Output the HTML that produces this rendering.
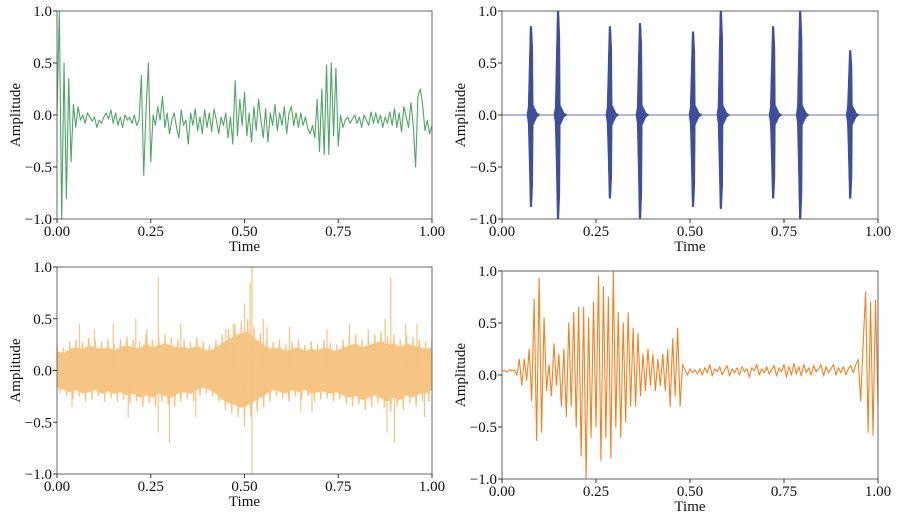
<!DOCTYPE html>
<html><head><meta charset="utf-8">
<style>
html,body{margin:0;padding:0;background:#fff;}
svg{display:block;font-family:"Liberation Serif",serif;}
</style></head>
<body>
<svg id="chart" width="897" height="522" viewBox="0 0 897 522" xmlns="http://www.w3.org/2000/svg"></svg>
<script>
// ---------- data ----------
const xTicks = [0, 0.25, 0.5, 0.75, 1.0];
const xTickLabels = ["0.00", "0.25", "0.50", "0.75", "1.00"];
const yTicks = [-1, -0.5, 0, 0.5, 1];
const yTickLabels = ["\u22121.0", "\u22120.5", "0.0", "0.5", "1.0"];

const greenValues = [
 0.0,1.0,-1.0,0.5,-0.8,0.35,-0.45,0.1,
 -0.12,0.08,-0.05,0.0,-0.08,0.02,-0.02,-0.06,
 -0.02,-0.12,-0.05,-0.08,-0.02,0.02,-0.04,0.05,
 -0.08,0.02,-0.1,-0.02,-0.12,0.0,-0.05,-0.02,
 -0.08,0.0,-0.1,-0.05,0.38,-0.58,0.05,0.5,
 -0.45,0.0,-0.1,0.08,-0.05,0.18,-0.12,0.02,
 -0.18,-0.05,0.02,-0.12,-0.22,0.05,-0.1,-0.05,
 -0.28,0.02,-0.1,0.06,-0.15,-0.02,-0.18,0.05,
 -0.12,0.02,-0.16,0.06,-0.05,-0.18,-0.02,-0.1,
 0.02,-0.22,-0.02,-0.28,0.33,-0.2,0.15,-0.1,
 0.22,-0.2,0.02,-0.26,0.08,-0.15,0.15,-0.05,
 -0.22,0.06,-0.26,0.02,-0.1,0.1,-0.15,0.02,
 -0.1,0.08,-0.18,0.02,0.08,-0.1,0.02,-0.12,
 0.02,-0.1,-0.02,-0.13,-0.18,-0.1,-0.22,0.15,
 -0.35,0.25,-0.38,0.48,-0.38,0.5,-0.2,0.45,
 -0.3,0.0,-0.12,-0.05,-0.02,-0.08,-0.04,0.0,
 -0.08,-0.02,-0.12,0.0,-0.05,-0.1,0.03,-0.08,
 0.02,-0.08,0.0,-0.12,-0.02,-0.08,0.03,-0.1,
 0.06,-0.12,0.02,-0.16,0.08,-0.02,-0.12,0.12,
 -0.1,-0.5,0.18,0.25,0.1,-0.15,-0.05,-0.18,-0.1
];

const burstTimes = [0.077,0.149,0.287,0.367,0.508,0.582,0.721,0.793,0.926];
const burstMax   = [0.85,1.0,0.85,0.88,0.8,1.0,0.85,1.0,0.62];
const burstMin   = [-0.88,-1.0,-0.8,-1.0,-0.88,-0.9,-0.8,-1.0,-0.8];

const noiseUpper = [0.25,0.22,0.28,0.3,0.27,0.32,0.3,0.28,0.3,0.26,0.3,0.33,0.3,0.28,0.35,0.3,0.33,0.35,0.32,0.3,0.3,0.28,0.32,0.28,0.25,0.3,0.35,0.4,0.45,0.48,0.5,0.42,0.36,0.3,0.28,0.3,0.25,0.28,0.3,0.25,0.28,0.26,0.3,0.27,0.25,0.3,0.32,0.35,0.3,0.33,0.35,0.38,0.33,0.35,0.3,0.35,0.32,0.3,0.28,0.3];
const noiseLower = [-0.22,-0.25,-0.28,-0.25,-0.3,-0.28,-0.25,-0.3,-0.27,-0.3,-0.28,-0.32,-0.3,-0.35,-0.32,-0.35,-0.3,-0.33,-0.35,-0.3,-0.28,-0.3,-0.25,-0.22,-0.25,-0.3,-0.38,-0.42,-0.45,-0.48,-0.45,-0.4,-0.35,-0.3,-0.25,-0.27,-0.3,-0.25,-0.28,-0.25,-0.3,-0.28,-0.27,-0.3,-0.28,-0.32,-0.35,-0.33,-0.38,-0.35,-0.32,-0.36,-0.4,-0.35,-0.38,-0.32,-0.35,-0.3,-0.3,-0.25];
const spikeTimes  = [0.06,0.15,0.21,0.27,0.27,0.3,0.24,0.47,0.5,0.515,0.52,0.52,0.5,0.55,0.78,0.875,0.89,0.9,0.88,0.96,0.1,0.19,0.33,0.37,0.62,0.68,0.72,0.83,0.93,0.98,0.04,0.45,0.56,0.65];
const spikeValues = [0.45,0.45,0.5,0.9,-0.6,-0.7,0.4,0.45,0.65,0.85,1.0,-1.0,-0.55,0.5,0.45,0.5,0.9,-0.7,-0.6,0.45,0.4,-0.45,0.45,-0.45,0.42,-0.4,0.4,0.4,0.45,-0.45,-0.35,0.4,0.42,-0.4];

const orangeValues = [
 0.04,0.04,0.03,0.05,0.04,0.05,0.0,0.15,
 -0.1,0.15,-0.05,0.25,-0.25,0.73,-0.63,0.93,
 -0.55,0.55,-0.15,0.1,-0.2,0.3,-0.1,0.2,
 -0.3,0.25,-0.4,0.5,-0.3,0.6,-0.5,0.65,
 -0.78,0.65,-1.0,0.55,-0.6,0.7,-0.5,0.95,
 -0.82,0.85,-0.6,0.75,-0.8,1.0,-0.5,0.6,
 -0.6,0.5,-0.45,0.6,-0.3,0.45,-0.3,0.4,
 -0.2,0.2,-0.15,0.25,-0.1,0.2,-0.15,0.15,
 -0.1,0.2,-0.15,0.25,-0.3,0.35,-0.2,0.45,
 -0.3,0.1,0.05,0.0,0.06,0.02,0.05,0.01,
 0.06,0.0,0.07,0.02,0.1,-0.01,0.06,0.03,
 0.08,0.0,0.05,0.09,-0.01,0.06,0.02,0.07,
 0.0,0.08,0.03,0.06,-0.02,0.07,0.04,0.1,
 0.0,0.06,0.02,0.08,0.01,0.05,0.09,-0.01,
 0.07,0.03,0.1,-0.02,0.08,0.0,0.11,0.01,
 0.08,-0.01,0.1,0.02,0.07,0.0,0.09,0.03,
 0.06,0.1,-0.01,0.08,0.02,0.06,0.1,0.0,
 0.07,0.02,0.08,0.0,0.06,0.09,0.02,0.1,
 0.15,-0.25,0.3,0.8,-0.55,0.7,-0.58,0.72,-0.3
];

// ---------- drawing ----------
const NS = "http://www.w3.org/2000/svg";
const svg = document.getElementById("chart");
function mk(tag, attrs, parent){
  const e = document.createElementNS(NS, tag);
  for (const k in attrs) e.setAttribute(k, attrs[k]);
  (parent||svg).appendChild(e);
  return e;
}

function panel(name, x0, x1, y0, y1){
  const g = mk("g", {});
  
  
  const sx = t => x0 + (x1 - x0) * t;
  const sy = v => y1 - (y1 - y0) * (v + 1) / 2;
  const clipId = name + "-clip";
  const cp = mk("clipPath", {id: clipId}, g);
  mk("rect", {x: x0, y: y0, width: x1 - x0, height: y1 - y0}, cp);
  const plot = mk("g", {"clip-path": "url(#" + clipId + ")"}, g);
  
  
  const frame = mk("rect", {x: x0, y: y0, width: x1 - x0, height: y1 - y0, fill: "none", stroke: "#555", "stroke-width": 0.9}, g);
  
  
  xTicks.forEach((t, i) => {
    mk("line", {x1: sx(t), x2: sx(t), y1: y1, y2: y1 + 4, stroke: "#333"}, g);
    const tx = mk("text", {x: sx(t), y: y1 + 17, "text-anchor": "middle", "font-size": 15, fill: "#111"}, g);
    tx.textContent = xTickLabels[i];
    
    
  });
  yTicks.forEach((v, i) => {
    mk("line", {x1: x0 - 4, x2: x0, y1: sy(v), y2: sy(v), stroke: "#333"}, g);
    const tx = mk("text", {x: x0 - 5, y: sy(v) + 5, "text-anchor": "end", "font-size": 15, fill: "#111"}, g);
    tx.textContent = yTickLabels[i];
    
    
  });
  const xl = mk("text", {x: (x0 + x1) / 2, y: y1 + 32, "text-anchor": "middle", "font-size": 15, fill: "#111"}, g);
  xl.textContent = "Time";
  
  
  const cy = (y0 + y1) / 2;
  const yl = mk("text", {x: x0 - 37, y: cy, "text-anchor": "middle", "font-size": 15, fill: "#111", transform: "rotate(-90 " + (x0 - 37) + " " + cy + ")"}, g);
  yl.textContent = "Amplitude";
  
  
  return {plot, sx, sy};
}

function linePath(vals, sx, sy){
  const n = vals.length - 1;
  return vals.map((v, i) => (i ? "L" : "M") + sx(i / n).toFixed(2) + " " + sy(v).toFixed(2)).join("");
}

// Top-left: green
{
  const p = panel("panel-green", 57, 432, 11, 219);
  const path = mk("path", {d: linePath(greenValues, p.sx, p.sy), fill: "none", stroke: "#4fa564", "stroke-width": 1.1, "stroke-linejoin": "round"}, p.plot);
  
  
}

// Top-right: blue bursts
{
  const p = panel("panel-blue", 502, 878, 11, 219);
  const base = mk("line", {x1: 502, x2: 878, y1: p.sy(0), y2: p.sy(0), stroke: "#6170b8", "stroke-width": 1}, p.plot);
  
  
  burstTimes.forEach((t, i) => {
    const cx = p.sx(t);
    const top = p.sy(burstMax[i]), bot = p.sy(burstMin[i]);
    const zy = p.sy(0);
    const d = "M" + (cx - 0.8) + " " + top + " L" + (cx + 0.8) + " " + top +
      " L" + (cx + 1.8) + " " + (zy - (zy - top) * 0.75) + " L" + (cx + 2.2) + " " + (zy - 10) +
      " L" + (cx + 6) + " " + (zy - 2) + " L" + (cx + 9) + " " + zy + " L" + (cx + 6) + " " + (zy + 2) +
      " L" + (cx + 2.2) + " " + (zy + 10) + " L" + (cx + 1.8) + " " + (zy + (bot - zy) * 0.75) +
      " L" + (cx + 0.8) + " " + bot + " L" + (cx - 0.8) + " " + bot +
      " L" + (cx - 1.8) + " " + (zy + (bot - zy) * 0.5) + " L" + (cx - 2.8) + " " + (zy + 8) +
      " L" + (cx - 4) + " " + zy + " L" + (cx - 2.8) + " " + (zy - 8) +
      " L" + (cx - 1.8) + " " + (zy - (zy - top) * 0.55) + " Z";
    const b = mk("path", {d: d, fill: "#3d4e9a", stroke: "#3d4e9a", "stroke-width": 0.6}, p.plot);
    
    
  });
}

// Bottom-left: peach noise
{
  const p = panel("panel-peach", 57, 432, 267, 474);
  const n = noiseUpper.length;
  let d = "";
  for (let i = 0; i < n; i++) d += (i ? "L" : "M") + p.sx(i / (n - 1)).toFixed(2) + " " + p.sy(noiseUpper[i] * 0.75).toFixed(2);
  for (let i = n - 1; i >= 0; i--) d += "L" + p.sx(i / (n - 1)).toFixed(2) + " " + p.sy(noiseLower[i] * 0.75).toFixed(2);
  const fill = mk("path", {d: d + "Z", fill: "#f6c483", stroke: "none"}, p.plot);
  
  
  let z = "";
  for (let i = 0; i < n; i++) {
    const xa = p.sx(i / (n - 1)), xb = p.sx((i + 0.5) / (n - 1));
    z += (i ? "L" : "M") + xa.toFixed(2) + " " + p.sy(noiseUpper[i]).toFixed(2) + "L" + xb.toFixed(2) + " " + p.sy(noiseLower[i]).toFixed(2);
  }
  const zz = mk("path", {d: z, fill: "none", stroke: "#f6c483", "stroke-width": 1.2}, p.plot);
  
  
  spikeTimes.forEach((t, i) => {
    const s = mk("line", {x1: p.sx(t), x2: p.sx(t), y1: p.sy(0), y2: p.sy(spikeValues[i]), stroke: "#f6c483", "stroke-width": 1.2}, p.plot);
    
    
  });
}

// Bottom-right: orange
{
  const p = panel("panel-orange", 502, 878, 271, 479);
  const path = mk("path", {d: linePath(orangeValues, p.sx, p.sy), fill: "none", stroke: "#f5801f", "stroke-width": 1.1, "stroke-linejoin": "round"}, p.plot);
  
  
}
</script>
</body></html>
